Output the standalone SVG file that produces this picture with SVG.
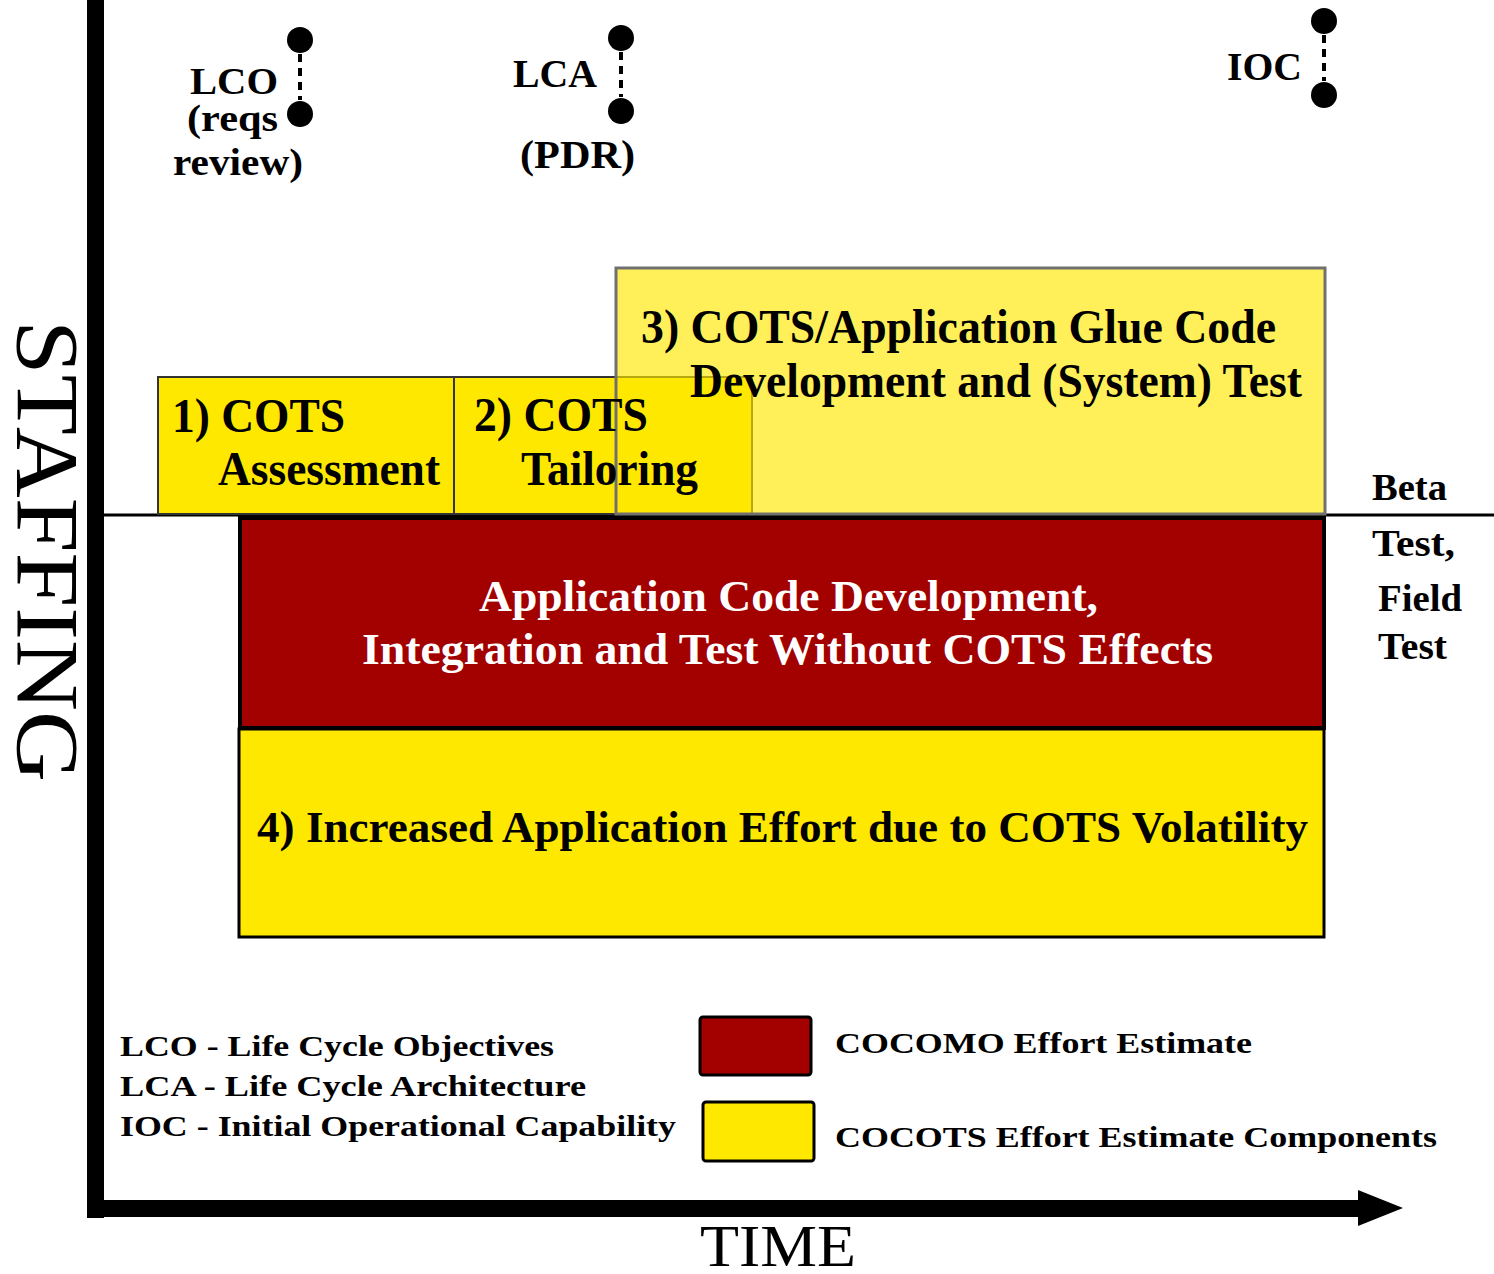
<svg xmlns="http://www.w3.org/2000/svg" width="1494" height="1274" viewBox="0 0 1494 1274">
<style>
.t{font-family:"Liberation Serif","Times New Roman",serif;font-weight:bold;fill:#000}
.w{fill:#fff}
.r{font-family:"Liberation Serif","Times New Roman",serif;font-weight:normal;fill:#000}
.y{fill:#ffe800}
.dot{fill:#000}
.dash{stroke:#000;stroke-width:4;stroke-dasharray:8 6}
</style>
<rect width="1494" height="1274" fill="#fff"/>

<!-- axes -->
<g id="axes">
<rect x="87" y="0" width="17" height="1218" fill="#000"/>
<rect x="87" y="1200" width="1275" height="17" fill="#000"/>
<polygon points="1358,1190 1403,1208 1358,1226" fill="#000"/>
<line x1="104" y1="515" x2="1494" y2="515" stroke="#000" stroke-width="3"/>
<text class="r" font-size="88" textLength="462" lengthAdjust="spacingAndGlyphs" transform="translate(18,320) rotate(90)" x="0" y="0">STAFFING</text>
<text class="r" font-size="60" x="700" y="1266" textLength="156" lengthAdjust="spacingAndGlyphs">TIME</text>
</g>

<!-- milestones -->
<g id="m-lco">
<line class="dash" x1="300" y1="54" x2="300" y2="100"/>
<circle class="dot" cx="300" cy="40" r="13"/>
<circle class="dot" cx="300" cy="114" r="13"/>
<text class="t" font-size="38" x="190" y="94" textLength="88" lengthAdjust="spacingAndGlyphs">LCO</text>
<text class="t" font-size="38" x="187" y="131" textLength="91" lengthAdjust="spacingAndGlyphs">(reqs</text>
<text class="t" font-size="38" x="173" y="175" textLength="130" lengthAdjust="spacingAndGlyphs">review)</text>
</g>
<g id="m-lca">
<line class="dash" x1="621" y1="52" x2="621" y2="97"/>
<circle class="dot" cx="621" cy="38" r="13"/>
<circle class="dot" cx="621" cy="111" r="13"/>
<text class="t" font-size="40" x="513" y="87" textLength="84" lengthAdjust="spacingAndGlyphs">LCA</text>
<text class="t" font-size="40" x="520" y="168" textLength="115" lengthAdjust="spacingAndGlyphs">(PDR)</text>
</g>
<g id="m-ioc">
<line class="dash" x1="1324" y1="35" x2="1324" y2="81"/>
<circle class="dot" cx="1324" cy="21" r="13"/>
<circle class="dot" cx="1324" cy="95" r="13"/>
<text class="t" font-size="40" x="1227" y="80" textLength="75" lengthAdjust="spacingAndGlyphs">IOC</text>
</g>

<!-- box 1 -->
<g id="b1">
<rect x="158" y="377" width="296" height="137" class="y" stroke="#333" stroke-width="2"/>
<text class="t" font-size="48" x="172" y="432" textLength="173" lengthAdjust="spacingAndGlyphs">1) COTS</text>
<text class="t" font-size="48" x="218" y="485" textLength="222" lengthAdjust="spacingAndGlyphs">Assessment</text>
</g>

<!-- box 2 -->
<g id="b2">
<rect x="454" y="377" width="298" height="137" class="y" stroke="#333" stroke-width="2"/>
</g>

<!-- box 3 -->
<g id="b3">
<rect x="616" y="268" width="709" height="246" fill="#ffe800" fill-opacity="0.65" stroke="#707070" stroke-width="3"/>
<text class="t" font-size="48" x="641" y="343" textLength="635" lengthAdjust="spacingAndGlyphs">3) COTS/Application Glue Code</text>
<text class="t" font-size="48" x="690" y="397" textLength="612" lengthAdjust="spacingAndGlyphs">Development and (System) Test</text>
</g>

<g id="b2-text">
<text class="t" font-size="48" x="474" y="431" textLength="174" lengthAdjust="spacingAndGlyphs">2) COTS</text>
<text class="t" font-size="48" x="521" y="485" textLength="177" lengthAdjust="spacingAndGlyphs">Tailoring</text>
</g>

<!-- red box -->
<g id="cocomo">
<rect x="240" y="518" width="1084" height="210" fill="#a30000" stroke="#000" stroke-width="4"/>
<text class="t w" font-size="44" x="479" y="611" textLength="619" lengthAdjust="spacingAndGlyphs">Application Code Development,</text>
<text class="t w" font-size="44" x="362" y="664" textLength="851" lengthAdjust="spacingAndGlyphs">Integration and Test Without COTS Effects</text>
</g>

<!-- box 4 -->
<g id="b4">
<rect x="239" y="729" width="1085" height="208" class="y" stroke="#000" stroke-width="3"/>
<text class="t" font-size="44" x="257" y="842" textLength="1051" lengthAdjust="spacingAndGlyphs">4) Increased Application Effort due to COTS Volatility</text>
</g>

<!-- beta test -->
<g id="beta">
<text class="t" font-size="38" x="1372" y="500" textLength="75" lengthAdjust="spacingAndGlyphs">Beta</text>
<text class="t" font-size="38" x="1372" y="556" textLength="83" lengthAdjust="spacingAndGlyphs">Test,</text>
<text class="t" font-size="38" x="1378" y="611" textLength="84" lengthAdjust="spacingAndGlyphs">Field</text>
<text class="t" font-size="38" x="1378" y="659" textLength="69" lengthAdjust="spacingAndGlyphs">Test</text>
</g>

<!-- legend -->
<g id="legend">
<text class="t" font-size="30" x="120" y="1056" textLength="434" lengthAdjust="spacingAndGlyphs">LCO - Life Cycle Objectives</text>
<text class="t" font-size="30" x="120" y="1096" textLength="466" lengthAdjust="spacingAndGlyphs">LCA - Life Cycle Architecture</text>
<text class="t" font-size="30" x="120" y="1136" textLength="556" lengthAdjust="spacingAndGlyphs">IOC - Initial Operational Capability</text>
<rect x="700" y="1017" width="111" height="58" rx="3" fill="#a30000" stroke="#000" stroke-width="3"/>
<rect x="703" y="1102" width="111" height="59" rx="3" class="y" stroke="#000" stroke-width="3"/>
<text class="t" font-size="30" x="835" y="1053" textLength="417" lengthAdjust="spacingAndGlyphs">COCOMO Effort Estimate</text>
<text class="t" font-size="30" x="835" y="1147" textLength="602" lengthAdjust="spacingAndGlyphs">COCOTS Effort Estimate Components</text>
</g>
</svg>
